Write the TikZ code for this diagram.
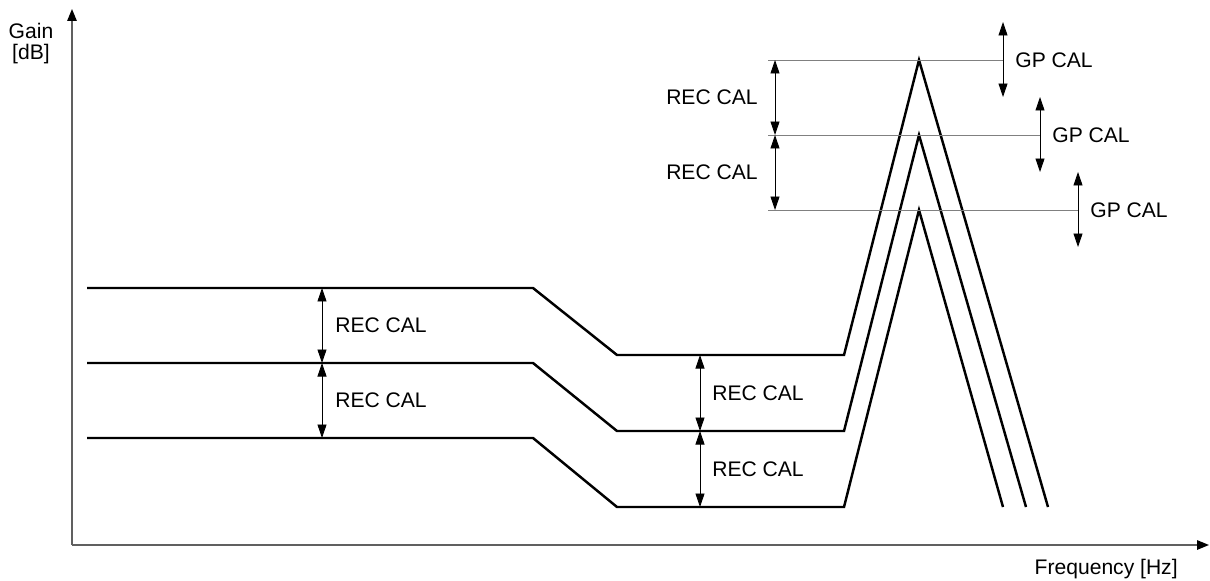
\documentclass[tikz,border=0pt]{standalone}
\usepackage{fontspec}
\setmainfont{Liberation Sans}
\usetikzlibrary{arrows.meta}
\usetikzlibrary{positioning}
\tikzset {
  % plot axes
  axis/.style = {
    draw = gray!75!black,
    line width = 0.8pt,
    -{Triangle[length = 2.4mm, width = 1.9mm, color = black]}
  },
  % gain curve
  curve/.style = {
    draw = black,
    line width = 1.4pt,
    line join = miter
  },
  % thin reference level
  level/.style = {
    draw = gray,
    line width = 0.5pt
  },
  % double headed measure arrow
  span/.style = {
    draw = black,
    line width = 0.5pt,
    {Triangle[length = 2.7mm, width = 1.8mm]}-{Triangle[length = 2.7mm, width = 1.8mm]}
  },
  % text next to an arrow
  caltext/.style = {
    font = \fontsize{12}{12}\selectfont,
    inner sep = 0
  }
}
\begin{document}
\begin{tikzpicture}[x = 0.02cm, y = -0.02cm]
    \useasboundingbox (0,0) rectangle (1210,581);

    \coordinate (origin) at (72,545);
    \coordinate (y end) at (72,9);
    \coordinate (x end) at (1209,545);

    \node[caltext, align = center] (gain) at (31,44) {Gain\\{[dB]}};
    \node[caltext, anchor = east] (freq) at (1178,569) {Frequency [Hz]};

    % top curve
    \coordinate (top start) at (87,288);
    \coordinate (top knee) at (533,288);
    \coordinate (top floor) at (617,355);
    \coordinate (top rise) at (844,355);
    \coordinate (top peak) at (919,60);
    \coordinate (top end) at (1048,507);

    % middle curve
    \coordinate (mid start) at (87,363);
    \coordinate (mid knee) at (533,363);
    \coordinate (mid floor) at (617,431);
    \coordinate (mid rise) at (844,431);
    \coordinate (mid peak) at (919,135);
    \coordinate (mid end) at (1026,507);

    % low curve
    \coordinate (low start) at (87,438);
    \coordinate (low knee) at (533,438);
    \coordinate (low floor) at (617,507);
    \coordinate (low rise) at (844,507);
    \coordinate (low peak) at (919,210);
    \coordinate (low end) at (1003,507);

    % reference levels at the peaks
    \coordinate (top ref) at (768,60);
    \coordinate (mid ref) at (768,135);
    \coordinate (low ref) at (768,210);
    \coordinate (top gp) at (1003,60);
    \coordinate (mid gp) at (1040,135);
    \coordinate (low gp) at (1078,210);

    % axes
    \draw[axis] (origin) -- (y end);
    \draw[axis] (origin) -- (x end);

    % curves
    \draw[curve] (top start) -- (top knee) -- (top floor)
      -- (top rise) -- (top peak) -- (top end);
    \draw[curve] (mid start) -- (mid knee) -- (mid floor)
      -- (mid rise) -- (mid peak) -- (mid end);
    \draw[curve] (low start) -- (low knee) -- (low floor)
      -- (low rise) -- (low peak) -- (low end);

    \draw[level] (top ref) -- (top gp);
    \draw[level] (mid ref) -- (mid gp);
    \draw[level] (low ref) -- (low gp);

    % left rec cal
    \draw[span] (322,288) -- (322,363);
    \draw[span] (322,363) -- (322,438);
    \node[caltext, anchor = west] (rec left a) at (335,325) {REC CAL};
    \node[caltext, anchor = west] (rec left b) at (335,400) {REC CAL};

    % floor rec cal
    \draw[span] (700,355) -- (700,431);
    \draw[span] (700,431) -- (700,507);
    \node[caltext, anchor = west] (rec floor a) at (712,393) {REC CAL};
    \node[caltext, anchor = west] (rec floor b) at (712,469) {REC CAL};

    % peak rec cal
    \draw[span] (top ref) ++(7,0) -- ++(0,75);
    \draw[span] (mid ref) ++(7,0) -- ++(0,75);
    \node[caltext, anchor = east] (rec peak a) at (758,97) {REC CAL};
    \node[caltext, anchor = east] (rec peak b) at (758,172) {REC CAL};

    % gp cal
    \draw[span] (top gp) ++(0,-38) -- ++(0,75);
    \draw[span] (mid gp) ++(0,-38) -- ++(0,75);
    \draw[span] (low gp) ++(0,-38) -- ++(0,75);
    \node[caltext, anchor = west, right = 12 of top gp] (gp a) {GP CAL};
    \node[caltext, anchor = west, right = 12 of mid gp] (gp b) {GP CAL};
    \node[caltext, anchor = west, right = 12 of low gp] (gp c) {GP CAL};
\end{tikzpicture}
\end{document}
